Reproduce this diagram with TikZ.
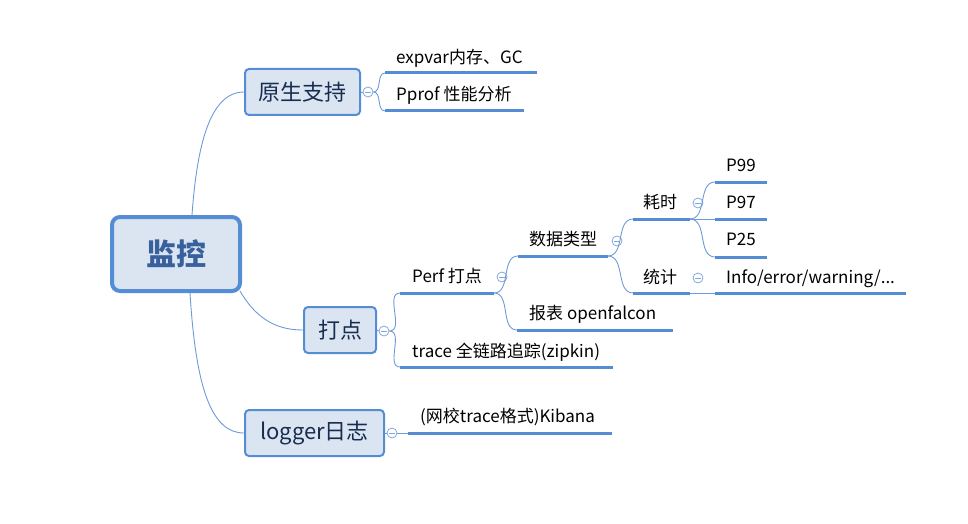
\documentclass[tikz,border=0pt]{standalone}
\usepackage{fontspec}
\setmainfont{Noto Sans CJK SC}
\definecolor{linec}{RGB}{84,141,212}
\definecolor{connc}{RGB}{110,155,215}
\definecolor{boxfill}{RGB}{219,229,241}
\definecolor{boxtext}{RGB}{23,45,80}
\definecolor{roottext}{RGB}{55,96,156}
\definecolor{foldc}{RGB}{130,168,222}
\begin{document}
\begin{tikzpicture}[x=1pt,y=-1pt,
  conn/.style={draw=connc, line width=0.9pt},
  uline/.style={draw=linec, line width=3pt},
  box/.style={draw=linec, line width=2pt, fill=boxfill, rounded corners=4pt, inner sep=0pt,
    minimum height=46pt, text=boxtext, font=\fontsize{22}{26}\selectfont},
  rootbox/.style={draw=linec, line width=4pt, fill=boxfill, rounded corners=8pt, inner sep=0pt,
    minimum width=128pt, minimum height=74pt, text=roottext, font=\fontsize{30}{36}\selectfont\bfseries},
  leaf/.style={anchor=west, inner sep=0pt, text height=0.84em, text depth=0.12em, yshift=-2pt,
    font=\fontsize{17}{20}\selectfont},
  fold/.style={circle, draw=foldc, fill=white, line width=0.8pt, minimum size=10pt, inner sep=0pt,
    path picture={\draw[foldc, line width=0.7pt]
      ([xshift=-2.8pt]path picture bounding box.center) -- ([xshift=2.8pt]path picture bounding box.center);}}
]
\useasboundingbox (0,0) rectangle (968,524);

% main nodes
\node[rootbox] (root) at (176,254) {监控};
\node[box, minimum width=115pt] (ys) at (302.5,92) {原生支持};
\node[box, minimum width=72pt] (dd) at (340,330) {打点};
\node[box, minimum width=139pt] (lg) at (314.5,433) {logger日志};

% root connectors
\draw[conn] ([xshift=16pt]root.north) .. controls (197,145) and (210,92) .. (ys.west);
\draw[conn] ([xshift=-2pt,yshift=2pt]root.south east) .. controls (258,322) and (280,330) .. (dd.west);
\draw[conn] ([xshift=14pt]root.south) .. controls (196,390) and (212,433) .. (lg.west);

% fold circles
\node[fold] (f1) at (368,92) {};
\node[fold] (f2) at (384,331) {};
\node[fold] (f3) at (392,433) {};
\node[fold] (f4) at (502,277) {};
\node[fold] (f5) at (617,241) {};
\node[fold] (f6) at (698,203) {};
\node[fold] (f7) at (698,278) {};

\draw[conn] (ys.east) -- (f1.west);
\draw[conn] (dd.east) -- (f2.west);
\draw[conn] (lg.east) -- (f3.west);

% underline coordinates
\coordinate (u1a) at (385,73);  \coordinate (u1b) at (537,73);
\coordinate (u2a) at (385,111); \coordinate (u2b) at (524,111);
\coordinate (pfa) at (400,293); \coordinate (pfb) at (494,293);
\coordinate (tra) at (400,367); \coordinate (trb) at (613,367);
\coordinate (sja) at (518,256); \coordinate (sjb) at (608,256);
\coordinate (bba) at (517,330); \coordinate (bbb) at (673,330);
\coordinate (hsa) at (633,219); \coordinate (hsb) at (690,219);
\coordinate (tja) at (633,293); \coordinate (tjb) at (690,293);
\coordinate (p9a) at (715,182); \coordinate (p9b) at (767,182);
\coordinate (p7a) at (715,219); \coordinate (p7b) at (767,219);
\coordinate (p2a) at (715,257); \coordinate (p2b) at (767,257);
\coordinate (ifa) at (715,293); \coordinate (ifb) at (906,293);
\coordinate (kba) at (408,433); \coordinate (kbb) at (612,433);

% thin branch connectors
\draw[conn] (f1.east) to[out=0,in=180] (u1a);
\draw[conn] (f1.east) to[out=0,in=180] (u2a);
\draw[conn] (f2.east) to[out=0,in=180] (pfa);
\draw[conn] (f2.east) to[out=0,in=180] (tra);
\draw[conn] (f3.east) -- (kba);
\draw[conn] (pfb) to[out=0,in=180] (sja);
\draw[conn] (pfb) to[out=0,in=180] (bba);
\draw[conn] (sjb) to[out=0,in=180] (hsa);
\draw[conn] (sjb) to[out=0,in=180] (tja);
\draw[conn] (hsb) to[out=0,in=180] (p9a);
\draw[conn] (hsb) -- (p7a);
\draw[conn] (hsb) to[out=0,in=180] (p2a);
\draw[conn] (tjb) -- (ifa);

% underlines
\foreach \a/\b in {u1a/u1b,u2a/u2b,pfa/pfb,tra/trb,sja/sjb,bba/bbb,hsa/hsb,tja/tjb,p9a/p9b,p7a/p7b,p2a/p2b,ifa/ifb,kba/kbb}
  \draw[uline] (\a) -- (\b);

% leaf texts
\node[leaf] (t1) at (396,58) {expvar内存、GC};
\node[leaf] (t2) at (396,95) {Pprof 性能分析};
\node[leaf] (t3) at (412,277) {Perf 打点};
\node[leaf] (t4) at (412,352) {trace 全链路追踪(zipkin)};
\node[leaf] (t5) at (529,240) {数据类型};
\node[leaf] (t6) at (529,314) {报表 openfalcon};
\node[leaf] (t7) at (643,203) {耗时};
\node[leaf] (t8) at (643,278) {统计};
\node[leaf] (t9) at (726,166) {P99};
\node[leaf] (t10) at (726,203) {P97};
\node[leaf] (t11) at (726,240) {P25};
\node[leaf] (t12) at (726,278) {Info/error/warning/...};
\node[leaf] (t13) at (420,417) {(网校trace格式)Kibana};
\end{tikzpicture}
\end{document}
